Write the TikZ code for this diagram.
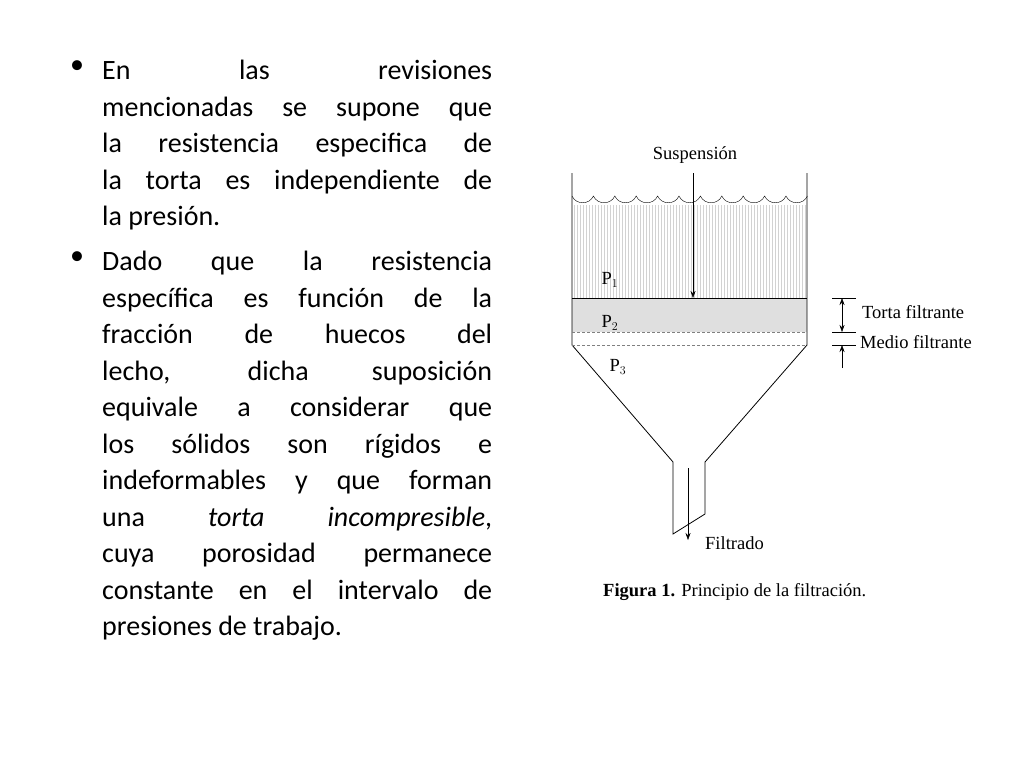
\documentclass[tikz,border=0pt]{standalone}
\usepackage{fontspec}
\setmainfont{Carlito}
\newfontfamily\serif{Liberation Serif}
\usetikzlibrary{arrows.meta}
\tikzstyle{para}  = [anchor=north west, inner sep=0pt, text width=390pt, align=justify, font=\fontsize{28}{36.5}\selectfont]
\tikzstyle{lbl}   = [inner sep=0pt, font=\serif\fontsize{18.5}{20}\selectfont]
\tikzstyle{arrow} = [-{Stealth[length=7pt,width=5pt]}]
\begin{document}
\begin{tikzpicture}[x=1pt,y=-1pt]
		\useasboundingbox (0,0) rectangle (1024,768);

		% text
		\node[para] (par1) at (102,60) {En las revisiones\linebreak mencionadas se supone que\linebreak la resistencia especifica de\linebreak la torta es independiente de\linebreak la presión.};
		\node[para] (par2) at (102,251) {Dado que la resistencia\linebreak específica es función de la\linebreak fracción de huecos del\linebreak lecho, dicha suposición\linebreak equivale a considerar que\linebreak los sólidos son rígidos e\linebreak indeformables y que forman\linebreak una \textit{torta incompresible},\linebreak cuya porosidad permanece\linebreak constante en el intervalo de\linebreak presiones de trabajo.};
		\node[anchor=north, inner sep=0pt, font=\fontsize{28}{36.5}\selectfont] (b1) at (77,60) {•};
		\node[anchor=north, inner sep=0pt, font=\fontsize{28}{36.5}\selectfont] (b2) at (77,251) {•};

		% suspension
		\foreach \x in {574,577,...,806}
			\draw[gray!35, line width=0.4pt] (\x,205) -- (\x,298);
		\fill[gray!25] (572,298) rectangle (807,332);
		\draw[thick] (572,173) -- (572,345) -- (673,462) -- (673,534) -- (705,514) -- (705,462) -- (807,345) -- (807,173);
		\draw (572,298) -- (807,298);
		\draw[densely dashed, gray] (572,332) -- (807,332);
		\draw[densely dashed, gray] (572,345) -- (807,345);
		\draw (572,196) foreach \i in {0,...,10} { .. controls ++(4,9) and ++(-4,9) .. ++(21.4,0)};

		\node[lbl] (susp) at (695,155) {Suspensión};
		\coordinate (cake) at (693,298);
		\draw[arrow] (693,173) -- (cake);
		\node[lbl] (p1) at (610,280) {P$_1$};
		\node[lbl] (p2) at (610,323) {P$_2$};
		\node[lbl] (p3) at (618,367) {P$_3$};

		% dimensions
		\draw (832,298) -- (856,298) (832,332) -- (856,332) (832,345) -- (856,345);
		\draw[{Stealth[length=7pt,width=5pt]}-{Stealth[length=7pt,width=5pt]}] (842,298) -- (842,332);
		\draw[arrow] (842,368) -- (842,345);
		\node[lbl, anchor=west] (torta) at (862,312) {Torta filtrante};
		\node[lbl, anchor=west] (medio) at (860,342) {Medio filtrante};

		% outlet
		\coordinate (out) at (688,468);
		\draw[arrow] (out) -- (688,540);
		\node[lbl, anchor=west] (filt) at (705,543) {Filtrado};
		\node[lbl, anchor=west] (cap) at (603,592) {\textbf{Figura 1.} Principio de la filtración.};
	\end{tikzpicture}
\end{document}
